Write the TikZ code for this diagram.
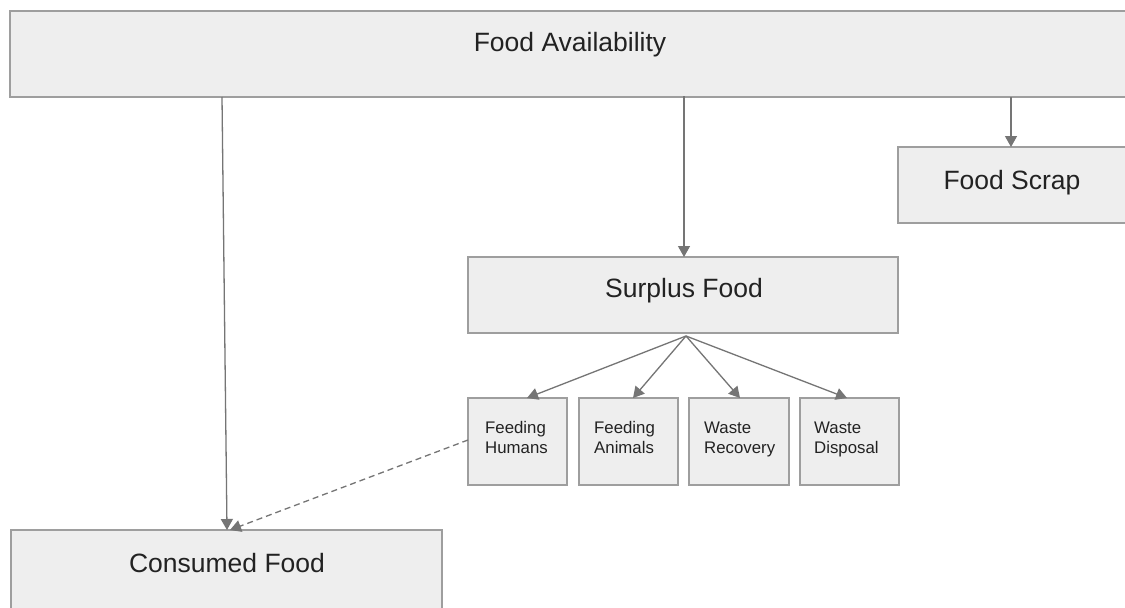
\documentclass[tikz,border=0pt]{standalone}
\usepackage{fontspec}
\setmainfont{Liberation Sans}
\usetikzlibrary{arrows.meta}
\definecolor{boxfill}{HTML}{EEEEEE}
\definecolor{boxline}{HTML}{9E9E9E}
\definecolor{conn}{HTML}{757575}
\definecolor{txt}{HTML}{222222}
\tikzset{
  box/.style={draw=boxline, fill=boxfill, line width=1.3pt},
  bigtext/.style={font=\fontsize{26.5}{30}\selectfont, text=txt, inner sep=0pt, text depth=0pt},
  smalltext/.style={font=\fontsize{16.8}{19.5}\selectfont, text=txt, inner sep=0pt, align=left, anchor=base west},
  conn/.style={draw=conn, line width=1.3pt, -{Triangle[length=11pt,width=12pt]}},
  dconn/.style={conn, dash pattern=on 6pt off 4pt},
}
\begin{document}
\begin{tikzpicture}[x=1pt,y=-1pt]
\useasboundingbox (0,0) rectangle (1125,608);
\fill[white] (0,0) rectangle (1125,608);
\clip (0,0) rectangle (1125,608);
% boxes
\draw[box] (10,11) rectangle (1140,97);
\coordinate (faA) at (222,97);
\coordinate (faB) at (684,96);
\coordinate (faC) at (1011,97);
\node[bigtext] (fa) at (570,42) {Food Availability};

\draw[box] (898,147) rectangle (1140,223);
\coordinate (fsT) at (1011,147);
\node[bigtext] (fs) at (1012,180) {Food Scrap};

\draw[box] (468,257) rectangle (898,333);
\coordinate (sfT) at (684,257);
\coordinate (sfB) at (686,336);
\node[bigtext] (sf) at (684,288) {Surplus Food};

\draw[box] (468,398) rectangle (567,485);
\draw[box] (579,398) rectangle (678,485);
\draw[box] (689,398) rectangle (789,485);
\draw[box] (800,398) rectangle (899,485);
\coordinate (fhT) at (527,398);
\coordinate (fanT) at (633,398);
\coordinate (wrT) at (740,398);
\coordinate (wdT) at (847,398);
\coordinate (fhL) at (468,440);
\node[smalltext] (fh) at (485,453) {Feeding\\Humans};
\node[smalltext] (fan) at (594,453) {Feeding\\Animals};
\node[smalltext] (wr) at (704,453) {Waste\\Recovery};
\node[smalltext] (wd) at (814,453) {Waste\\Disposal};

\draw[box] (11,530) rectangle (442,620);
\coordinate (cfT) at (227,530);
\coordinate (cfT2) at (230,530);
\node[bigtext] (cf) at (227,563) {Consumed Food};

% connectors
\draw[conn] (faA) -- (cfT);
\draw[conn] (faB) -- (sfT);
\draw[conn] (faC) -- (fsT);
\draw[conn] (sfB) -- (fhT);
\draw[conn] (sfB) -- (fanT);
\draw[conn] (sfB) -- (wrT);
\draw[conn] (sfB) -- (wdT);
\draw[dconn] (fhL) -- (cfT2);
\end{tikzpicture}
\end{document}
